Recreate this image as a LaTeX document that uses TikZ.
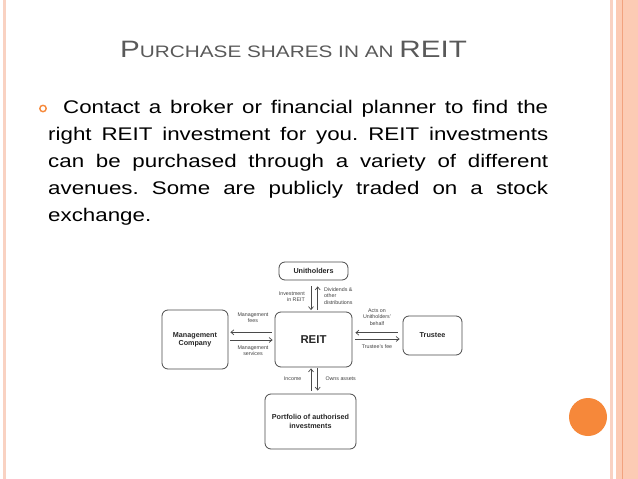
\documentclass[tikz,border=0pt]{standalone}
\usepackage{fontspec}
\setmainfont{Liberation Sans}
\newfontfamily\widefont[FakeStretch=1.22]{Liberation Sans}
\newfontfamily\titlefont[FakeStretch=1.25]{Liberation Sans}
\usetikzlibrary{arrows.meta}
\definecolor{titlegray}{HTML}{595959}
\definecolor{bandA}{HTML}{FCCBB4}
\definecolor{bandline}{HTML}{F2A27E}
\definecolor{paleline}{HTML}{F9D2C2}
\definecolor{dotorange}{HTML}{F6883A}
\definecolor{diag}{HTML}{4A4A4A}
\frenchspacing
\begin{document}
\begin{tikzpicture}[x=1pt,y=-1pt,
  box/.style={draw=diag, line width=0.8pt, rounded corners=6pt, font=\fontsize{7.2}{8.4}\selectfont\bfseries, text=black!85, align=center, inner sep=0pt},
  lbl/.style={font=\fontsize{5.3}{6.3}\selectfont, text=black!75, align=center, inner sep=0pt},
  arr/.style={draw=diag, line width=0.7pt, -{Straight Barb[length=3pt,width=5pt]}}]
\useasboundingbox (0,0) rectangle (638,479);
\fill[white] (0,0) rectangle (638,479);
% slide decorations
\fill[paleline] (2.5,0) rectangle (5.5,479);
\fill[paleline] (610,0) rectangle (613,479);
\fill[bandA] (616,0) rectangle (638,479);
\fill[bandline] (621.8,0) rectangle (623.2,479);
\fill[dotorange] (588,417) circle (19);
% title
\node[anchor=base west, inner sep=0pt, text=titlegray] (title) at (120,57)
  {\titlefont\fontsize{23.7}{28}\selectfont P\fontsize{16.6}{20}\selectfont URCHASE SHARES IN AN \fontsize{23.7}{28}\selectfont REIT};
% bullet and body
\draw[dotorange, line width=1.4pt] (43,108.5) circle (3.2);
\node[anchor=north west, inner sep=0pt, text width=500pt, align=justify,
  font=\widefont\fontsize{18.3}{27}\selectfont] (body) at (48,100)
  {\hspace*{15pt}Contact a broker or financial planner to find the\linebreak
   right REIT investment for you. REIT investments\linebreak
   can be purchased through a variety of different\linebreak
   avenues. Some are publicly traded on a stock\linebreak
   exchange.};
% diagram boxes
\node[box, minimum width=69pt, minimum height=18pt] (unit) at (313.5,271) {Unitholders};
\node[box, minimum width=77pt, minimum height=55pt, font=\fontsize{11.4}{13}\selectfont\bfseries] (reit) at (313.5,339.5) {REIT};
\node[box, minimum width=66pt, minimum height=59pt] (mgmt) at (195,339.5) {Management\\Company};
\node[box, minimum width=59pt, minimum height=39pt] (trustee) at (432.5,335.5) {Trustee};
\node[box, minimum width=91pt, minimum height=55pt] (port) at (310.5,421.5) {Portfolio of authorised\\investments};
% helper coordinates
\coordinate (v1) at (311,0);
\coordinate (v2) at (317.7,0);
\coordinate (h1) at (0,332.3);
\coordinate (h2) at (0,340);
\coordinate (h3) at (0,332.7);
\coordinate (h4) at (0,339);
% arrows
\draw[arr, shorten <=6pt, shorten >=1.5pt] (unit.south -| v1) -- (reit.north -| v1);
\draw[arr, shorten <=1.5pt, shorten >=6pt] (reit.north -| v2) -- (unit.south -| v2);
\draw[arr, shorten <=3pt, shorten >=2pt] (reit.west |- h1) -- (mgmt.east |- h1);
\draw[arr, shorten <=2pt, shorten >=2pt] (mgmt.east |- h2) -- (reit.west |- h2);
\draw[arr, shorten <=5pt, shorten >=3pt] (trustee.west |- h3) -- (reit.east |- h3);
\draw[arr, shorten <=3pt, shorten >=3pt] (reit.east |- h4) -- (trustee.west |- h4);
\draw[arr, shorten <=3pt, shorten >=1pt] (port.north -| v1) -- (reit.south -| v1);
\draw[arr, shorten <=1pt, shorten >=3pt] (reit.south -| v2) -- (port.north -| v2);
% labels
\node[lbl, anchor=east, align=right] (linv) at (305,296.7) {Investment\\in REIT};
\node[lbl, anchor=west, align=left] (ldiv) at (324,296) {Dividends \&\\other\\distributions};
\node[lbl] (lmfee) at (253,318) {Management\\fees};
\node[lbl] (lmserv) at (253,350.7) {Management\\services};
\node[lbl] (lacts) at (377,317) {Acts on\\Unitholders'\\behalf};
\node[lbl] (ltfee) at (377,346.7) {Trustee's fee};
\node[lbl] (linc) at (292.7,379) {Income};
\node[lbl] (lowns) at (340.7,379) {Owns assets};
\end{tikzpicture}
\end{document}
